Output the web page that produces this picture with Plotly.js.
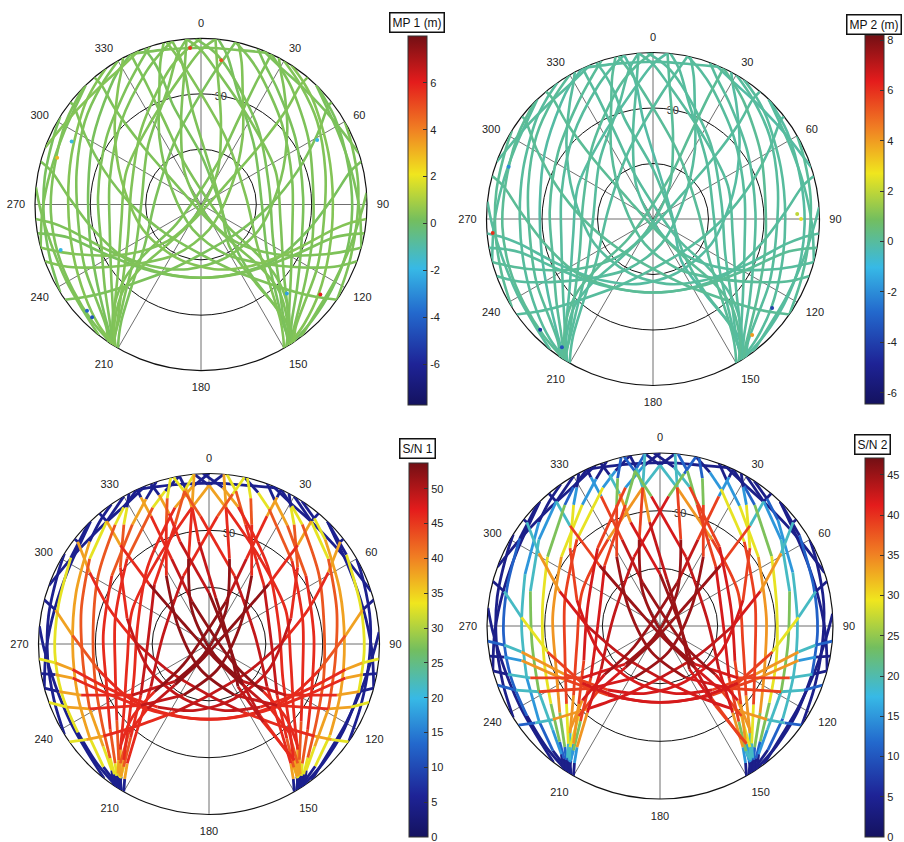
<!DOCTYPE html>
<html><head><meta charset="utf-8">
<script src="https://cdn.plot.ly/plotly-3.0.1.min.js"></script>
<style>html,body{margin:0;padding:0;background:#fff}#chart{width:904px;height:842px}</style>
</head><body><div id="chart"></div>
<script>
// ---- track geometry: azimuth (deg) and elevation (deg) per satellite pass ----
const trackAz = [
 [315,302,284,267,251,236,223,212],
 [325,318,310.6,291,270,248.7,231.8,220.7,211],
 [335,328,321.8,301.6,278.4,253.4,234.5,220.9,216,213],
 [350,344,337.6,316.2,285.3,254.7,230.2,217.9,215,214],
 [0,353.8,346,321.3,283.4,245.6,226.2,216.3,213.5,212],
 [12,9,3.8,339.4,280.5,233.7,220,214.4,212,210],
 [212,215.1,220.9,226.3,228.8,231.3,21.8,23.7,24.4,24.9,25],
 [44,57,76,92,108,123,136,147],
 [33,40,48,68,89,110,127,139,148],
 [25,31,38,58,81,106,125,139,144,147],
 [12,18,24,45,76,106,130,142,145,146],
 [358,5,12,37,77,115,134,144,146.5,148],
 [348,351,356.2,20.6,79.5,126.3,140,145.6,148,150],
 [148,144.9,139.1,133.7,131.2,128.7,338.2,336.3,335.6,335.1,335],
 [350,351.5,353,354.3,8.4,90,145.8,145.2,143.7,145,146],
 [340,341.5,343,344.2,0,63.4,138,144.5,144.1,146,147],
 [125,127.9,131.1,138.8,153.4,180,232.3,270,289,301,307.9,308],
 [95,97,100.6,117,140.9,168.4,205.1,246.8,287.4,310.9,324.5,329,332],
 [110,114,118.5,132,153.4,198.4,299.1,328,340.3,344,347],
 [235,232.1,228.9,221.2,206.6,180,127.7,90,71,59,52.1,52],
 [265,263,259.4,243,219.1,191.6,154.9,113.2,72.6,49.1,35.5,31,28],
 [250,246,241.5,228,206.6,161.6,60.9,32,19.7,16,13],
 [238,250,265,280,295,302],
 [218,228,240,255,268,276],
 [290,305,318,330,338],
 [125,112,97,82,68,60],
 [143,133,120,106,93,86],
 [72,57,42,30,22],
 [335,348,2,15,24],
 [211,214,216.6,222.1,223.5,219.8,200.6,51.3,45,41.9,39.8,40],
 [149,146,143.4,137.9,136.5,140.2,159.4,308.7,315,318.1,320.2,320],
 [355,351,344.1,317.6,270,233.1,219.9,214.8,213.5,213],
 [6,10,17,43,90,127,140.5,145.5,146.5,147],
 [342,336.5,327.3,305.1,274.6,247.4,229.2,218.2,215,213],
 [20,24.5,33.5,55,86,113,131,142,145,147],
 [5,0,352.9,329,294,258.2,231.3,220,214,211],
 [355,0,7,31,66,102,129,140,146,149],
 [100,101.3,104,119.4,143.1,173.5,205.5,233.7,257,273.6,282.5,285],
 [260,258.7,256,240.6,216.9,186.5,154.5,126.3,103,86.4,77.5,75],
 [105,107.6,111.8,123.7,137.7,158.2,333.4,346.5,352.9,355],
 [255,252.4,248.2,236.3,222.3,201.8,26.6,13.5,7.1,5],
 [255,268,283,298,310,316],
 [105,92,77,62,50,44],
 [330,320.2,305.5,285,262.3,241.5,225.9,217.6,214],
 [30,39.8,54.5,75,97.7,118.5,134.1,142.4,146]
];
const trackEl = [
 [0,4,8,8.5,8,6.5,3.5,0],
 [0,3.5,7,14.8,18,15.6,9.9,4.5,0],
 [0,5,9.9,21.3,28.2,27.1,20.3,10.3,5,0],
 [0,6,12.1,27.6,38.7,38.7,26.7,12.4,6,0],
 [0,6.7,15.8,38.1,51.2,46.5,31.4,14,6,0],
 [0,9.8,22.4,51.6,65.3,52,31.2,13.6,6,0],
 [0,6.3,18.5,34,51.7,72.7,65.8,40.9,15.9,4.7,0],
 [0,3.5,7.5,8,7,5.5,3,0],
 [0,3.5,7.5,15.5,18.5,16,10,4.5,0],
 [0,5,10,21.5,28.5,27,20.5,10.5,5,0],
 [0,6,12,28,39,38.5,26.5,12.5,6,0],
 [0,7,16,38.5,52,47,31.5,14,6,0],
 [0,9,22.4,51.6,65.3,52,31.2,13.6,6,0],
 [0,6.3,18.5,34,51.7,72.7,65.8,40.9,15.9,4.7,0],
 [0,7,18,35.7,65.4,79.2,62.8,39.6,14,6,0],
 [0,7,18,33.9,63,80,65.8,43.6,17.8,7,0],
 [0,7.9,16,32.6,49.8,63,65,52.2,34.8,16.5,2.2,0],
 [0,8.4,16.7,34.5,47.1,54.2,58.2,55.7,44.7,28.1,12.6,6,0],
 [0,8,18.3,41.6,59.8,75.8,71.5,47.5,23.1,10,0],
 [0,7.9,16,32.6,49.8,63,65,52.2,34.8,16.5,2.2,0],
 [0,8.4,16.7,34.5,47.1,54.2,58.2,55.7,44.7,28.1,12.6,6,0],
 [0,8,18.3,41.6,59.8,75.8,71.5,47.5,23.1,10,0],
 [0,3,4.5,4,2,0],
 [0,4,6,6,3,0],
 [0,5,6,4,0],
 [0,3.5,5,4,2,0],
 [0,4.5,6.5,6,3,0],
 [0,5,6,4,0],
 [0,4,5,3.5,0],
 [0,5.4,11.5,26.9,42.9,61.9,82.3,72.7,45.5,19.9,5.7,0],
 [0,5.4,11.5,26.9,42.9,61.9,82.3,72.7,45.5,19.9,5.7,0],
 [0,8,24.5,47.3,57.6,45,25.5,11.1,5,0],
 [0,8,24,47.5,57,45,25.5,11,5,0],
 [0,6.6,15.1,27.3,34,31.5,21.1,9.9,5,0],
 [0,6.5,15,27.5,34.5,31,21,10,5,0],
 [0,6.3,17.4,37.5,45.7,45.9,32.4,17.2,6,0],
 [0,6.3,17.4,37.5,45.7,45.9,32.4,17.2,6,0],
 [0,7.4,15.8,33.2,45,50.1,48.1,39.8,30,17.8,7,0],
 [0,7.4,15.8,33.2,45,50.1,48.1,39.8,30,17.8,7,0],
 [0,6.9,17.3,41.3,63.3,85.2,69.9,43.7,17.4,0],
 [0,6.9,17.3,41.3,63.3,85.2,69.9,43.7,17.4,0],
 [0,4,6.5,6,3,0],
 [0,4,6.5,6,3,0],
 [0,5.7,12.6,20.2,22.8,18.3,12.3,5.9,0],
 [0,5.7,12.6,20.2,22.8,18.3,12.3,5.9,0]
];
// ---- signal-to-noise read along each pass ----
const sn1 = [
 [5,5,33,33,33,5,5,5],
 [5,5,5,38,38,38,33,5,5],
 [5,5,33,43,43,43,43,33,5,5],
 [5,5,33,43,46,46,43,33,5,5],
 [5,5,38,46,46,46,46,38,5,5],
 [5,33,43,46,49,46,46,38,5,5],
 [5,5,38,46,46,52,49,46,38,5,5],
 [5,5,33,33,5,5,5,5],
 [5,5,33,38,38,38,33,5,5],
 [5,5,33,43,43,43,43,33,5,5],
 [5,5,33,43,46,46,43,33,5,5],
 [5,5,38,46,46,46,46,38,5,5],
 [5,33,43,46,49,46,46,38,5,5],
 [5,5,38,46,46,52,49,46,38,5,5],
 [5,5,38,46,49,52,49,46,38,5,5],
 [5,5,38,46,49,52,49,46,38,5,5],
 [5,33,38,46,46,49,49,46,46,38,5,5],
 [5,33,38,46,46,49,49,49,46,43,33,5,5],
 [5,33,38,46,49,52,52,46,43,33,5],
 [5,33,38,46,46,49,49,46,46,38,5,5],
 [5,33,38,46,46,49,49,49,46,43,33,5,5],
 [5,33,38,46,49,52,52,46,43,33,5],
 [5,5,5,5,5,5],
 [5,5,5,5,5,5],
 [5,5,5,5,5],
 [5,5,5,5,5,5],
 [5,5,5,5,5,5],
 [5,5,5,5,5],
 [5,5,5,5,5],
 [5,5,33,43,46,49,52,52,46,38,5,5],
 [5,5,33,43,46,49,52,52,46,38,5,5],
 [5,33,43,46,49,46,43,33,5,5],
 [5,33,43,46,49,46,43,33,5,5],
 [5,5,38,43,46,46,43,33,5,5],
 [5,5,38,43,46,46,43,33,5,5],
 [5,5,38,46,46,46,46,38,5,5],
 [5,5,38,46,46,46,46,38,5,5],
 [5,5,38,46,46,46,46,46,43,38,5,5],
 [5,5,38,46,46,46,46,46,43,38,5,5],
 [5,5,38,46,49,52,52,46,38,5],
 [5,5,38,46,49,52,52,46,38,5],
 [5,5,5,5,5,5],
 [5,5,5,5,5,5],
 [5,5,33,43,43,38,33,5,5],
 [5,5,33,43,43,38,33,5,5]
];
const sn2 = [
 [4,4,11,11,11,4,4,4],
 [4,4,4,15,19,15,11,4,4],
 [4,4,11,24,29,29,24,11,4,4],
 [4,4,15,29,39,39,29,15,4,4],
 [4,4,15,39,42,39,34,15,4,4],
 [4,11,24,42,43,42,34,15,4,4],
 [4,4,19,34,42,45,43,39,15,4,4],
 [4,4,11,11,4,4,4,4],
 [4,4,11,15,19,19,11,4,4],
 [4,4,11,24,29,29,24,11,4,4],
 [4,4,15,29,39,39,29,15,4,4],
 [4,4,19,39,42,39,34,15,4,4],
 [4,11,24,42,43,42,34,15,4,4],
 [4,4,19,34,42,45,43,39,15,4,4],
 [4,4,19,34,43,45,42,39,15,4,4],
 [4,4,19,34,42,45,43,39,19,4,4],
 [4,11,19,34,42,42,43,42,34,19,4,4],
 [4,11,19,34,39,42,42,42,39,29,15,4,4],
 [4,11,19,39,42,45,45,39,24,11,4],
 [4,11,19,34,42,42,43,42,34,19,4,4],
 [4,11,19,34,39,42,42,42,39,29,15,4,4],
 [4,11,19,39,42,45,45,39,24,11,4],
 [4,4,4,4,4,4],
 [4,4,4,4,4,4],
 [4,4,4,4,4],
 [4,4,4,4,4,4],
 [4,4,4,4,4,4],
 [4,4,4,4,4],
 [4,4,4,4,4],
 [4,4,15,29,39,42,45,45,39,19,4,4],
 [4,4,15,29,39,42,45,45,39,19,4,4],
 [4,11,24,39,42,39,24,15,4,4],
 [4,11,24,39,42,39,24,15,4,4],
 [4,4,15,29,34,34,24,11,4,4],
 [4,4,15,29,34,34,24,11,4,4],
 [4,4,19,34,39,39,34,19,4,4],
 [4,4,19,34,39,39,34,19,4,4],
 [4,4,15,34,39,42,42,39,29,19,4,4],
 [4,4,15,34,39,42,42,39,29,19,4,4],
 [4,4,19,39,42,45,45,39,19,4],
 [4,4,19,39,42,45,45,39,19,4],
 [4,4,4,4,4,4],
 [4,4,4,4,4,4],
 [4,4,15,19,24,19,15,4,4],
 [4,4,15,19,24,19,15,4,4]
];
// ---- multipath level per pass (m) and isolated outliers ----
const mp1 = [0.3,0.4,0.2,0.3,0.35,0.25,0.3,0.2,0.4,0.3,0.3,0.25,0.35,0.3,0.3,0.2,0.3,0.4,0.3,0.25,0.3,0.35,0.2,0.3,0.4,0.3,0.3,0.25,0.3,0.35,0.3,0.3,0.2,0.3,0.25,0.35,0.3,0.3,0.2,0.3,0.35,0.3,0.25,0.3,0.35];
const mp2 = [0.1,0,-0.1,0,0.05,0,0.1,-0.05,0,0.1,0,0,0.05,0,-0.1,0,0.1,0,0.05,0,-0.05,0,0.1,0,0,0.05,0,-0.1,0,0,0.1,0,0,0.05,0,-0.05,0,0.1,0,0,0.05,0,0,0.05,0];
const mp1OutAz  = [224,227,127,356,8,288,252,61,136,296];
const mp1OutEl  = [5,5.5,9,5,11,8,10,18,23,12];
const mp1OutVal = [-4.5,-4,6,5.5,5,3,-2,-2,-2.5,-1.8];
const mp2OutAz  = [265,90,88,225.5,215.4,139.5,126.8,289.9];
const mp2OutEl  = [3,10,12,4.5,5,7.5,9.6,7];
const mp2OutVal = [6,2.5,2,-4.5,-3.5,4,-4,-2];
// ---- axes ----
const azTicks = [0,30,60,90,120,150,180,210,240,270,300,330];
const ringZenith = [30,60];
const ringLabels = ['','30'];
const mp1Ticks = [-6,-4,-2,0,2,4,6];
const mp2Ticks = [-6,-4,-2,0,2,4,6,8];
const sn1Ticks = [0,5,10,15,20,25,30,35,40,45,50];
const sn2Ticks = [0,5,10,15,20,25,30,35,40,45];
const mp1Range = [-7.75,8.0], mp2Range = [-6.45,8.2], sn1Range = [0,53.7], sn2Range = [0,47.1];

const jetStops = [[0,20,18,95],[0.11,30,35,150],[0.25,35,105,205],[0.37,55,185,230],[0.5,115,190,95],[0.625,240,230,30],[0.75,240,125,35],[0.875,228,28,28],[1,115,15,20]];
const jetScale = jetStops.map(s => [s[0], 'rgb(' + s[1] + ',' + s[2] + ',' + s[3] + ')']);
function jetColor(v, rng){
  let t = (v - rng[0]) / (rng[1] - rng[0]); t = Math.max(0, Math.min(1, t));
  for (let i = 1; i < jetStops.length; i++){
    const a = jetStops[i-1], b = jetStops[i];
    if (t <= b[0]){ const f = (t - a[0]) / (b[0] - a[0]);
      return 'rgb(' + [1,2,3].map(j => Math.round(a[j] + f*(b[j]-a[j]))).join(',') + ')'; }
  }
  return jetScale[jetScale.length-1][1];
}
function addRun(groups, val, az, el, i0, i1){
  let g = groups.get(val); if (!g){ g = {r:[], theta:[]}; groups.set(val, g); }
  for (let i = i0; i <= i1; i++){ g.r.push(90 - el[i]); g.theta.push(az[i]); }
  g.r.push(null); g.theta.push(null);
}
function groupsToTraces(groups, rng, sub, width){
  return [...groups.keys()].sort((a,b)=>a-b).map(val => ({
    type:'scatterpolar', subplot:sub, mode:'lines', r:groups.get(val).r, theta:groups.get(val).theta,
    line:{color:jetColor(val, rng), width:width, shape:'spline', smoothing:0.9},
    connectgaps:false, hoverinfo:'skip', showlegend:false}));
}
function pointValueTraces(vals, rng, sub, width){
  const groups = new Map();
  trackAz.forEach((az, k) => {
    const el = trackEl[k], v = vals[k];
    let start = 0, cur = Math.max(v[0], v[1]);
    for (let i = 1; i < az.length - 1; i++){
      const sv = Math.max(v[i], v[i+1]);
      if (sv !== cur){ addRun(groups, cur, az, el, start, i); start = i; cur = sv; }
    }
    addRun(groups, cur, az, el, start, az.length - 1);
  });
  return groupsToTraces(groups, rng, sub, width);
}
function trackValueTraces(vals, rng, sub, width){
  const groups = new Map();
  trackAz.forEach((az, k) => addRun(groups, vals[k], az, trackEl[k], 0, az.length - 1));
  return groupsToTraces(groups, rng, sub, width);
}
function cbar(x, ytop, len, vals){
  return {x:x, xanchor:'left', y:ytop, yanchor:'top', len:len, lenmode:'fraction', thickness:19, thicknessmode:'pixels',
    xpad:0, ypad:0, outlinewidth:1, outlinecolor:'#333', ticks:'inside', ticklen:4, tickcolor:'#333', ticklabeloverflow:'allow',
    tickmode:'array', tickvals:vals, ticktext:vals.map(v => String(v)), tickfont:{size:11, color:'#222', family:'Liberation Sans, Arial, sans-serif'}};
}
function markerTrace(sub, az, el, vals, rng, cb, size, opacity){
  return {type:'scatterpolar', subplot:sub, mode:'markers', theta:az, r:el.map(e => 90 - e),
    marker:{color:vals, colorscale:jetScale, cmin:rng[0], cmax:rng[1], size:size, opacity:opacity, line:{width:0}, showscale:true, colorbar:cb},
    hoverinfo:'skip', showlegend:false};
}
const allAz = trackAz.flat(), allEl = trackEl.flat();

const data = [].concat(
  trackValueTraces(mp1, mp1Range, 'polar', 2.6),
  [markerTrace('polar', mp1OutAz, mp1OutEl, mp1OutVal, mp1Range, cbar(408/904, 1-36/842, 369/842, mp1Ticks), 4, 1)],
  trackValueTraces(mp2, mp2Range, 'polar2', 2.6),
  [markerTrace('polar2', mp2OutAz, mp2OutEl, mp2OutVal, mp2Range, cbar(865/904, 1-35/842, 369/842, mp2Ticks), 4, 1)],
  pointValueTraces(sn1, sn1Range, 'polar3', 2.8),
  [markerTrace('polar3', allAz, allEl, sn1.flat(), sn1Range, cbar(409/904, 1-463/842, 374/842, sn1Ticks), 1, 0)],
  pointValueTraces(sn2, sn2Range, 'polar4', 2.8),
  [markerTrace('polar4', allAz, allEl, sn2.flat(), sn2Range, cbar(865/904, 1-458/842, 379/842, sn2Ticks), 1, 0)]
);

function polarLayout(dx, dy){
  return {domain:{x:dx, y:dy}, bgcolor:'rgba(0,0,0,0)',
    angularaxis:{rotation:90, direction:'clockwise', tickmode:'array', tickvals:azTicks, ticktext:azTicks.map(String),
      showline:true, linecolor:'#111', linewidth:1.2, gridcolor:'#4a4a4a', gridwidth:0.8,
      ticks:'outside', ticklen:7, tickcolor:'rgba(0,0,0,0)', tickfont:{size:11, color:'#222'}, layer:'below traces'},
    radialaxis:{range:[0,90], autorange:false, tickmode:'array', tickvals:ringZenith, ticktext:ringLabels,
      showline:false, gridcolor:'#111', gridwidth:1, angle:86, tickangle:86, ticks:'', tickfont:{size:11, color:'#333'}, layer:'below traces'}};
}
function boxTitle(text, cx, cy){
  return {text:text, xref:'paper', yref:'paper', x:cx/904, y:1-cy/842, xanchor:'center', yanchor:'middle', showarrow:false,
    bordercolor:'#111', borderwidth:1.5, borderpad:2, bgcolor:'#fff', font:{size:12, color:'#111'}};
}
const layout = {
  width:904, height:842, margin:{l:0, r:0, t:0, b:0}, paper_bgcolor:'#fff', plot_bgcolor:'#fff', showlegend:false,
  font:{family:'Liberation Sans, Arial, sans-serif', color:'#222'},
  polar:  polarLayout([35/904, 367/904], [1-370.5/842, 1-38.5/842]),
  polar2: polarLayout([486.5/904, 819.5/904], [1-385.5/842, 1-52.5/842]),
  polar3: polarLayout([38.5/904, 379.5/904], [1-814.5/842, 1-473.5/842]),
  polar4: polarLayout([487/904, 833/904], [1-799/842, 1-453/842]),
  annotations:[boxTitle('MP 1 (m)', 417, 22.5), boxTitle('MP 2 (m)', 874, 24.5), boxTitle('S/N 1', 417.5, 448), boxTitle('S/N 2', 872, 444)]
};
Plotly.newPlot('chart', data, layout, {staticPlot:true});
</script>
</body></html>
